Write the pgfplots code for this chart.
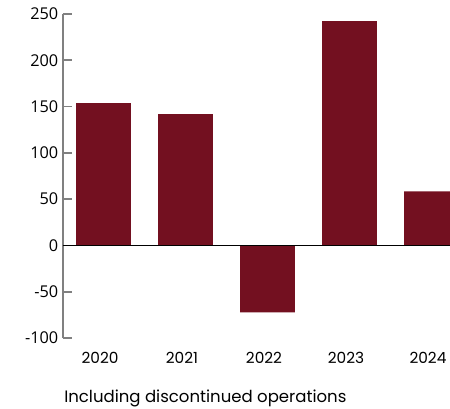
\documentclass[border=0pt]{standalone}
\usepackage{pgfplots}
\pgfplotsset{compat=1.18}
\usepackage{fontspec}
\setmainfont{Open Sans}
\newfontfamily\popfont{Poppins}
\definecolor{barred}{HTML}{731020}
\definecolor{axgray}{HTML}{808080}
\begin{document}
\begin{tikzpicture}[x=0.75pt,y=0.75pt]
\path[use as bounding box] (0,0) rectangle (450,408);
\begin{axis}[
  at={(47.25pt,52.5pt)}, anchor=south west,
  scale only axis, width=290.25pt, height=243pt,
  xmin=-0.494, xmax=4.226, ymin=-100, ymax=250,
  axis x line=none,
  axis y line*=left,
  y axis line style={axgray, line width=1.4pt, -},
  ytick={-100,-50,0,50,100,150,200,250},
  tick align=inside,
  major tick length=6.75pt,
  ytick style={axgray, line width=1.2pt},
  yticklabel style={font=\fontsize{12.2}{14}\selectfont, text=black},
  /pgf/number format/assume math mode=true,
  clip=true,
]
\addplot[ybar, bar width=0.67, fill=barred, draw=none] coordinates {
 (0,153.7) (1,141.8) (2,-72.2) (3,242.4) (4,58.4)};
\draw[black, line width=0.9pt] (axis cs:-0.494,0) -- (axis cs:4.226,0);
\end{axis}
\begin{scope}[font=\popfont\fontsize{11.5}{13}\selectfont]
\foreach \i/\lab in {0/2020,1/2021,2/2022,3/2023,4/2024}{
  \node[inner sep=0pt, anchor=center] at (100+82*\i, 408-357.5) {\lab};
}
\node[inner sep=0pt, anchor=base west, font=\popfont\fontsize{12.4}{14}\selectfont] at (64, 408-402.5) {Including discontinued operations};
\end{scope}
\end{tikzpicture}
\end{document}
